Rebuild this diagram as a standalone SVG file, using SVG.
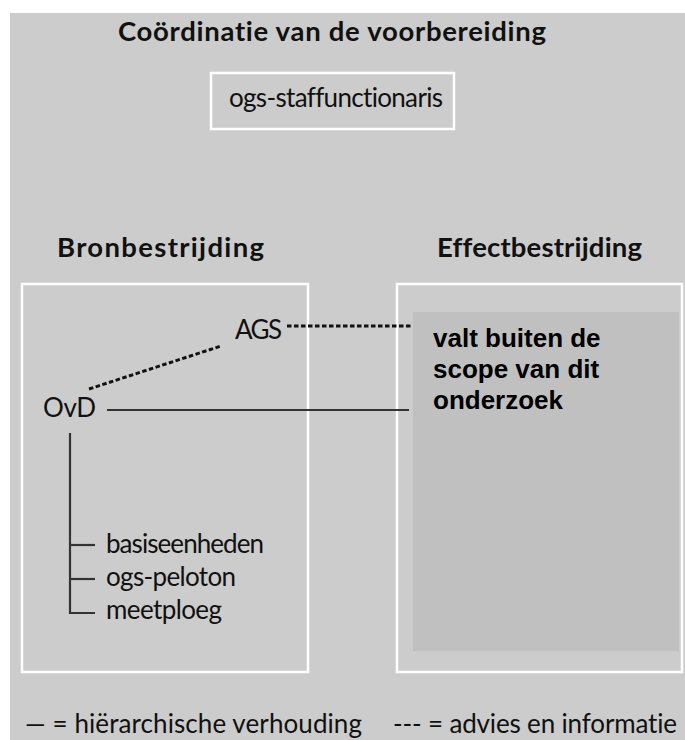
<svg xmlns="http://www.w3.org/2000/svg" width="685" height="740" viewBox="0 0 685 740">
<style>
text{font-variant-ligatures:none}
.h{font-family:Lato,"Open Sans",sans-serif;font-weight:bold;font-size:27.5px;fill:#111}
.t{font-family:Lato,"Open Sans",sans-serif;font-size:26px;fill:#111}
.a{font-family:"Liberation Sans",Arial,sans-serif;font-weight:bold;font-size:26px;fill:#000}
.box{fill:none;stroke:#fff;stroke-width:2.5}
.solid{stroke:#333;stroke-width:2.2;fill:none}
.dash{stroke:#111;stroke-width:3;stroke-dasharray:4.5 2.5;fill:none}
</style>
<rect x="0" y="0" width="685" height="740" fill="#fff"/>
<rect x="10" y="13" width="675" height="727" fill="#cccccc"/>
<text class="h" x="118" y="41" textLength="428">Coördinatie van de voorbereiding</text>
<g id="staf">
<rect class="box" x="211" y="73" width="243" height="56"/>
<text class="t" x="229" y="107" textLength="214">ogs-staffunctionaris</text>
</g>
<text class="h" x="57" y="257" textLength="207">Bronbestrijding</text>
<text class="h" x="437" y="257" textLength="205">Effectbestrijding</text>
<rect class="box" x="22" y="284" width="286" height="388"/>
<g id="effect">
<rect class="box" x="397" y="284" width="285" height="388"/>
<rect x="413" y="312" width="266" height="339" fill="#c0c0c0"/>
<text class="a" x="433" y="347">valt buiten de</text>
<text class="a" x="433" y="378">scope van dit</text>
<text class="a" x="433" y="409">onderzoek</text>
</g>
<g id="connectors">
<line class="dash" x1="287" y1="326" x2="413" y2="326"/>
<line class="dash" x1="89" y1="389" x2="221" y2="346"/>
<line class="solid" x1="107" y1="410" x2="409" y2="410"/>
<polyline class="solid" points="70,433 70,613 95,613"/>
<line class="solid" x1="70" y1="545" x2="95" y2="545" stroke-width="3"/>
<line class="solid" x1="70" y1="579" x2="95" y2="579" stroke-width="3"/>
</g>
<g id="ags"><text class="t" x="235" y="339" textLength="47">AGS</text></g>
<g id="ovd"><text class="t" x="43" y="417" textLength="53">OvD</text></g>
<g id="basis"><text class="t" x="106" y="553" textLength="158">basiseenheden</text></g>
<g id="peloton"><text class="t" x="106" y="586" textLength="130">ogs-peloton</text></g>
<g id="meet"><text class="t" x="106" y="619" textLength="116">meetploeg</text></g>
<g id="legend">
<text class="t" x="25" y="733" textLength="337">— = hiërarchische verhouding</text>
<text class="t" x="393" y="733" textLength="284">--- = advies en informatie</text>
</g>
</svg>
